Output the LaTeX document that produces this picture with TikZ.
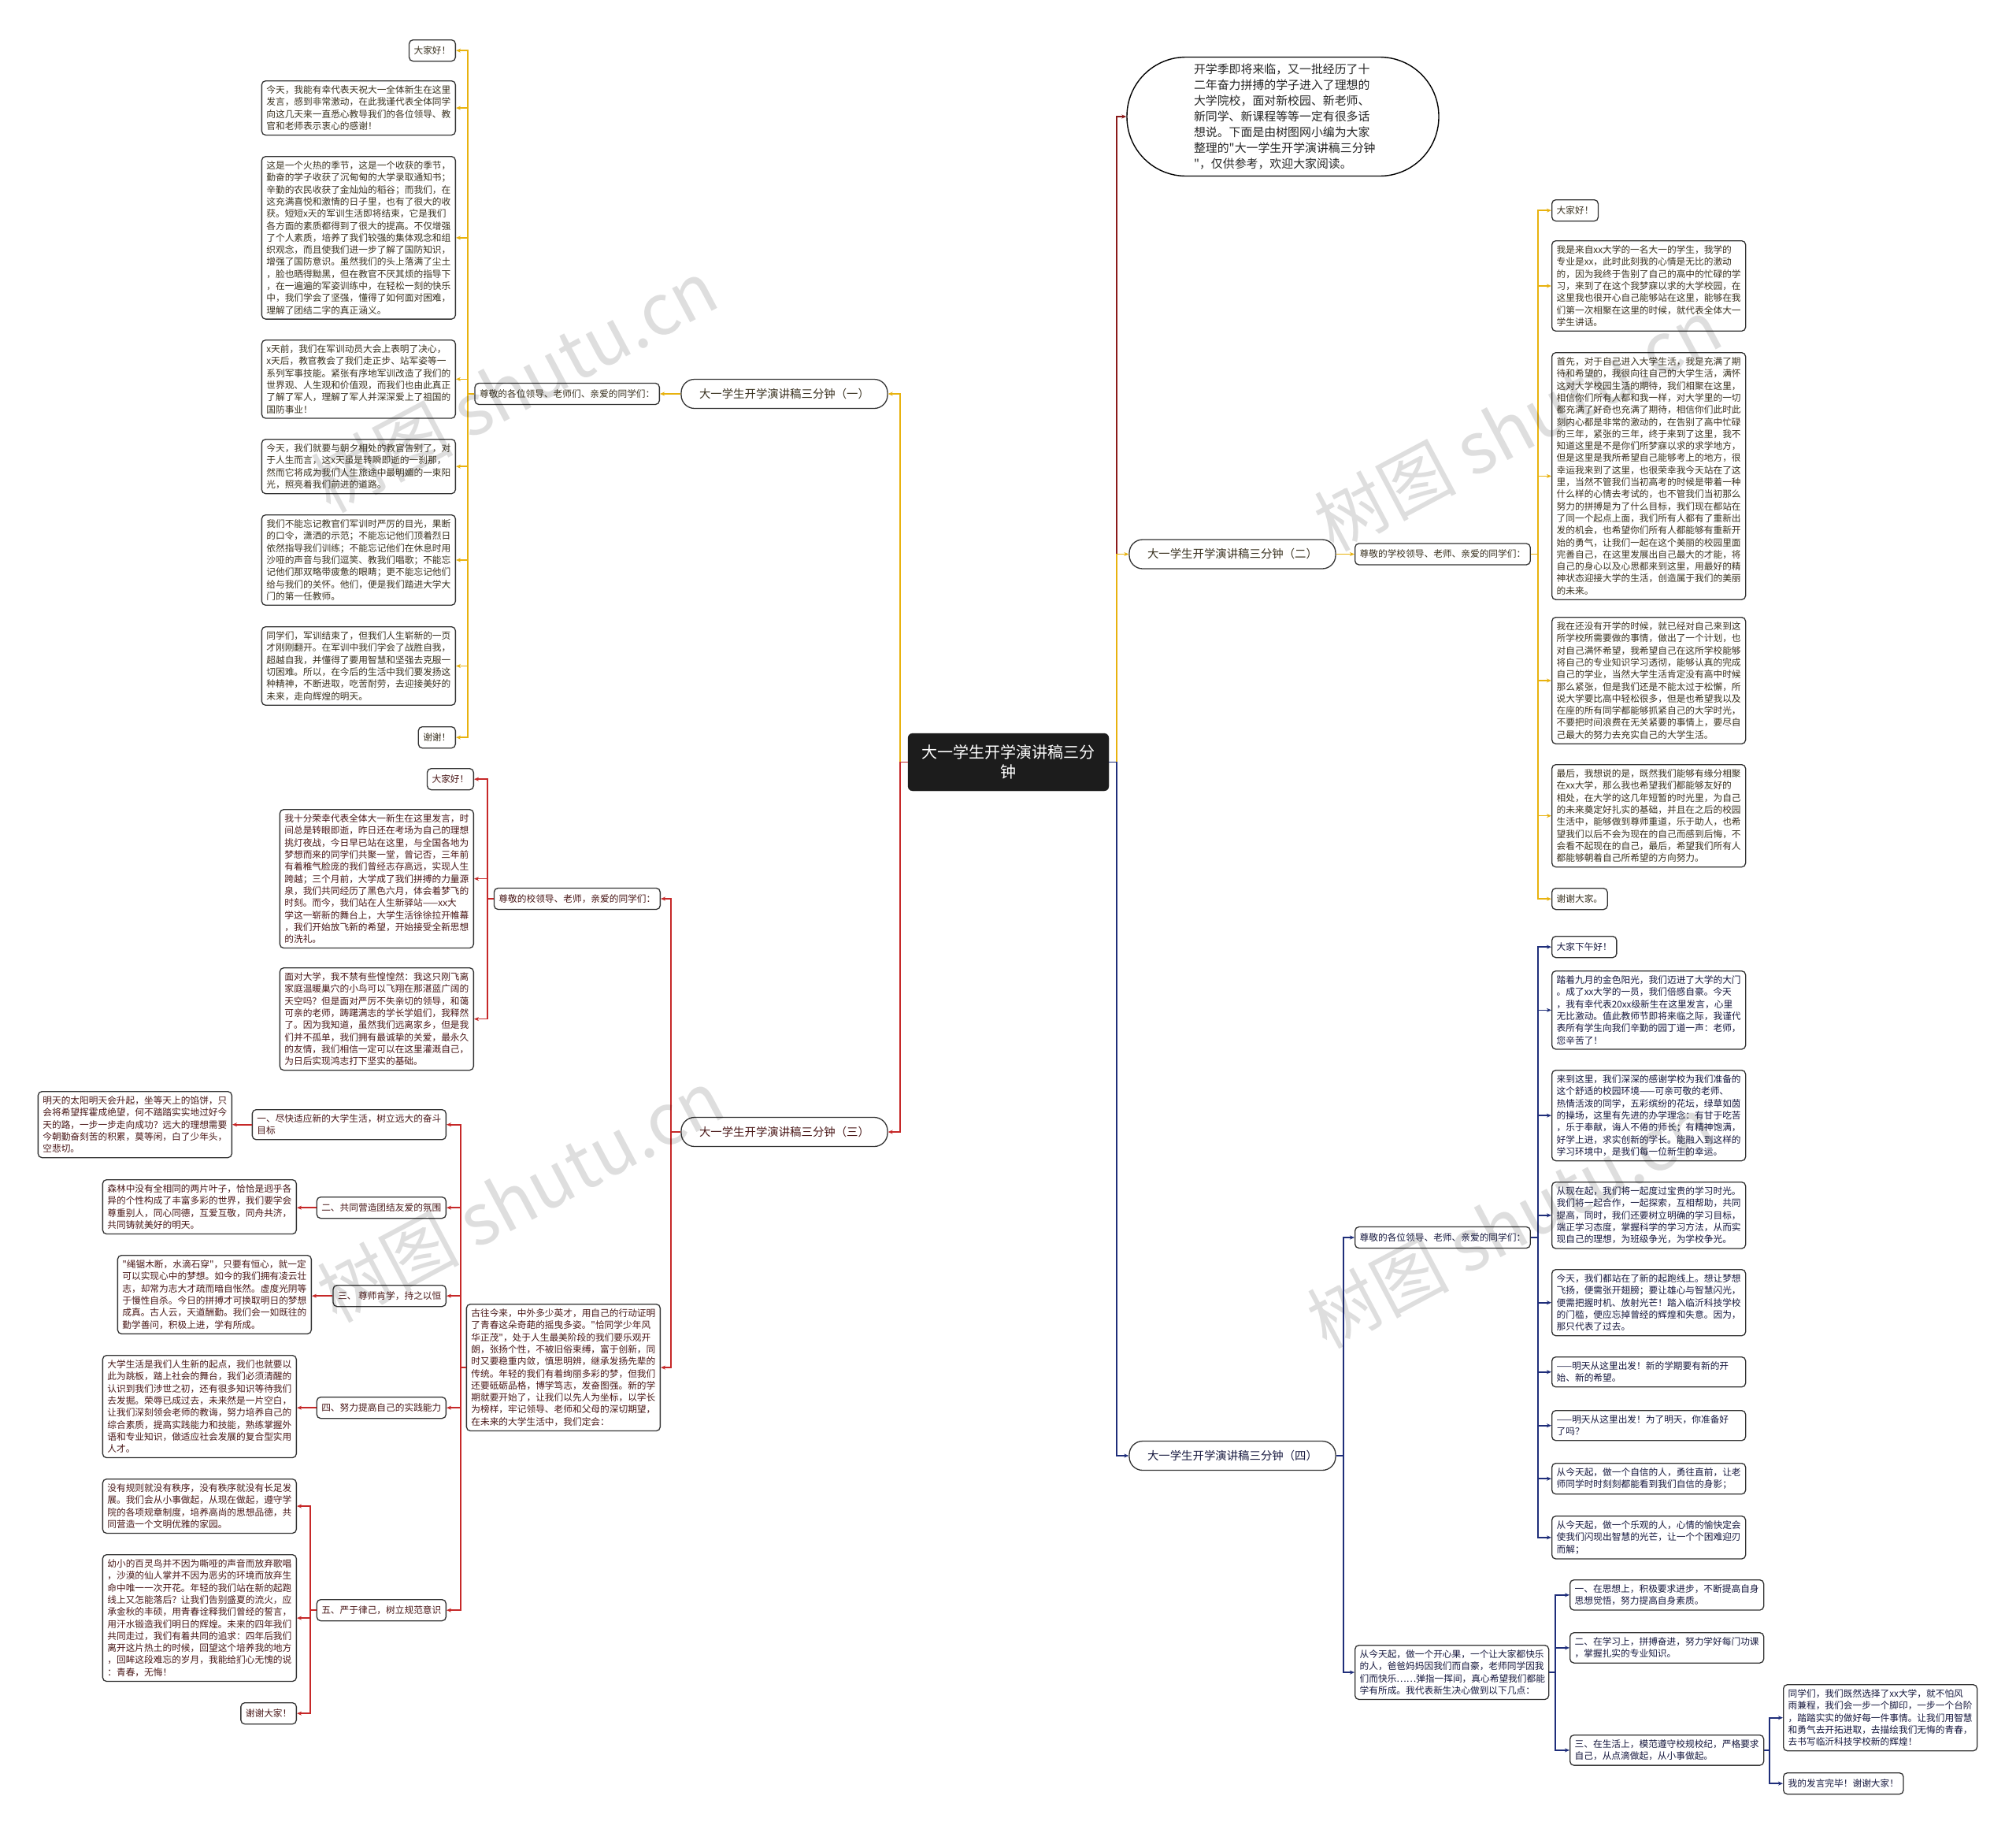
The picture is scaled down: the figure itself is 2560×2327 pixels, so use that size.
\documentclass[tikz,border=0pt]{standalone}
\usepackage{fontspec}
\setmainfont{Noto Sans CJK SC}[Ligatures=TeXOff]
\usetikzlibrary{arrows.meta,calc}
\definecolor{gold}{HTML}{E8B20E}
\definecolor{redl}{HTML}{C62828}
\definecolor{navy}{HTML}{1F2E7A}
\definecolor{introl}{HTML}{8B1A1A}
\definecolor{boxc}{HTML}{333333}
\definecolor{ctrc}{HTML}{1C1C1C}
\definecolor{tone}{HTML}{3A3220}
\definecolor{tthree}{HTML}{4A1818}
\definecolor{tfour}{HTML}{17193F}
\tikzset{
  tx/.style={font=\fontsize{11.7pt}{15.3pt}\selectfont},
  bx/.style={draw=boxc, line width=1.3pt, rounded corners=5pt, fill=white, inner xsep=6pt, inner ysep=6pt, minimum height=27pt, align=left, tx},
  wbx/.style={bx, text width=234pt},
  bo/.style={bx, text=tone},
  bow/.style={wbx, text=tone},
  bt/.style={bx, text=tthree},
  btw/.style={wbx, text=tthree},
  bf/.style={bx, text=tfour},
  bfw/.style={wbx, text=tfour},
  lab/.style={draw=boxc, line width=1.3pt, rounded corners=17pt, fill=white, font=\fontsize{14.4pt}{17pt}\selectfont, minimum width=262pt, minimum height=37pt, inner xsep=4pt},
  ctrbox/.style={fill=ctrc, draw=ctrc, rounded corners=6pt, text=white, font=\fontsize{20pt}{25pt}\selectfont, minimum width=255pt, minimum height=73pt, align=center},
  introbox/.style={draw=black, line width=1.4pt, rounded corners=75pt, fill=white, minimum width=396pt, minimum height=151pt, text width=226pt, align=left, text=black!85, font=\fontsize{14.9pt}{20pt}\selectfont},
  tip/.style={-{Stealth[length=6pt,width=5pt]}},
  gl/.style={draw=gold, line width=1.6pt, tip},
  rl/.style={draw=redl, line width=1.6pt, tip},
  nl/.style={draw=navy, line width=1.6pt, tip},
  dl/.style={draw=introl, line width=1.6pt, tip},
  wm/.style={font=\fontsize{90pt}{90pt}\selectfont, text=black, opacity=0.13, rotate=28}
}
\begin{document}
\begin{tikzpicture}[x=1pt,y=-1pt]
\useasboundingbox (0,0) rectangle (2560,2327);
\fill[white] (0,0) rectangle (2560,2327);

% trunk coordinates
\coordinate (tl) at (1143,0);
\coordinate (tr) at (1418,0);
\coordinate (ta) at (594,0);
\coordinate (tb) at (1953,0);
\coordinate (tc) at (852,0);
\coordinate (tcs) at (619,0);
\coordinate (tcg) at (585,0);
\coordinate (tcv) at (394,0);
\coordinate (td) at (1706,0);
\coordinate (tds) at (1953,0);
\coordinate (tdk) at (1975,0);
\coordinate (tdk3) at (2247,0);

% centre and intro
\node[ctrbox] (ctr) at (1280.5,967.5) {大一学生开学演讲稿三分\\钟};
\node[introbox] (intro) at (1629,148) {开学季即将来临，又一批经历了十\\二年奋力拼搏的学子进入了理想的\\大学院校，面对新校园、新老师、\\新同学、新课程等等一定有很多话\\想说。下面是由树图网小编为大家\\整理的"大一学生开学演讲稿三分钟\\"，仅供参考，欢迎大家阅读。};

% branch labels
\node[lab, text=tone] (L1) at (996,500) {大一学生开学演讲稿三分钟（一）};
\node[lab, text=tone] (L2) at (1565,703.5) {大一学生开学演讲稿三分钟（二）};
\node[lab, text=tthree] (L3) at (996,1437) {大一学生开学演讲稿三分钟（三）};
\node[lab, text=tfour] (L4) at (1565,1848) {大一学生开学演讲稿三分钟（四）};

% ===== branch 1 =====
\node[bo, anchor=east] (s1) at (838,500) {尊敬的各位领导、老师们、亲爱的同学们：};
\node[bo, anchor=north east] (a1) at (579,50) {大家好！};
\node[bow, anchor=north east] (a2) at (579,102) {今天，我能有幸代表天祝大一全体新生在这里\\发言，感到非常激动，在此我谨代表全体同学\\向这几天来一直悉心教导我们的各位领导、教\\官和老师表示衷心的感谢！};
\node[bow, anchor=north east] (a3) at (579,198) {这是一个火热的季节，这是一个收获的季节，\\勤奋的学子收获了沉甸甸的大学录取通知书；\\辛勤的农民收获了金灿灿的稻谷；而我们，在\\这充满喜悦和激情的日子里，也有了很大的收\\获。短短x天的军训生活即将结束，它是我们\\各方面的素质都得到了很大的提高。不仅增强\\了个人素质，培养了我们较强的集体观念和组\\织观念，而且使我们进一步了解了国防知识，\\增强了国防意识。虽然我们的头上落满了尘土\\，脸也晒得黝黑，但在教官不厌其烦的指导下\\，在一遍遍的军姿训练中，在轻松一刻的快乐\\中，我们学会了坚强，懂得了如何面对困难，\\理解了团结二字的真正涵义。};
\node[bow, anchor=north east] (a4) at (579,431) {x天前，我们在军训动员大会上表明了决心，\\x天后，教官教会了我们走正步、站军姿等一\\系列军事技能。紧张有序地军训改造了我们的\\世界观、人生观和价值观，而我们也由此真正\\了解了军人，理解了军人并深深爱上了祖国的\\国防事业！};
\node[bow, anchor=north east] (a5) at (579,557) {今天，我们就要与朝夕相处的教官告别了，对\\于人生而言，这x天虽是转瞬即逝的一刹那，\\然而它将成为我们人生旅途中最明媚的一束阳\\光，照亮着我们前进的道路。};
\node[bow, anchor=north east] (a6) at (579,653) {我们不能忘记教官们军训时严厉的目光，果断\\的口令，潇洒的示范；不能忘记他们顶着烈日\\依然指导我们训练；不能忘记他们在休息时用\\沙哑的声音与我们逗笑、教我们唱歌；不能忘\\记他们那双略带疲惫的眼睛；更不能忘记他们\\给与我们的关怀。他们，便是我们踏进大学大\\门的第一任教师。};
\node[bow, anchor=north east] (a7) at (579,795) {同学们，军训结束了，但我们人生崭新的一页\\才刚刚翻开。在军训中我们学会了战胜自我，\\超越自我，并懂得了要用智慧和坚强去克服一\\切困难。所以，在今后的生活中我们要发扬这\\种精神，不断进取，吃苦耐劳，去迎接美好的\\未来，走向辉煌的明天。};
\node[bo, anchor=north east] (a8) at (579,922) {谢谢！};

% ===== branch 2 =====
\node[bo, anchor=west] (s2) at (1720,703.5) {尊敬的学校领导、老师、亲爱的同学们：};
\node[bo, anchor=north west] (b1) at (1970,253) {大家好！};
\node[bow, anchor=north west] (b2) at (1970,305) {我是来自xx大学的一名大一的学生，我学的\\专业是xx，此时此刻我的心情是无比的激动\\的，因为我终于告别了自己的高中的忙碌的学\\习，来到了在这个我梦寐以求的大学校园，在\\这里我也很开心自己能够站在这里，能够在我\\们第一次相聚在这里的时候，就代表全体大一\\学生讲话。};
\node[bow, anchor=north west] (b3) at (1970,447) {首先，对于自己进入大学生活，我是充满了期\\待和希望的，我很向往自己的大学生活，满怀\\这对大学校园生活的期待，我们相聚在这里，\\相信你们所有人都和我一样，对大学里的一切\\都充满了好奇也充满了期待，相信你们此时此\\刻内心都是非常的激动的，在告别了高中忙碌\\的三年，紧张的三年，终于来到了这里，我不\\知道这里是不是你们所梦寐以求的求学地方，\\但是这里是我所希望自己能够考上的地方，很\\幸运我来到了这里，也很荣幸我今天站在了这\\里，当然不管我们当初高考的时候是带着一种\\什么样的心情去考试的，也不管我们当初那么\\努力的拼搏是为了什么目标，我们现在都站在\\了同一个起点上面，我们所有人都有了重新出\\发的机会，也希望你们所有人都能够有重新开\\始的勇气，让我们一起在这个美丽的校园里面\\完善自己，在这里发展出自己最大的才能，将\\自己的身心以及心思都来到这里，用最好的精\\神状态迎接大学的生活，创造属于我们的美丽\\的未来。};
\node[bow, anchor=north west] (b4) at (1970,783) {我在还没有开学的时候，就已经对自己来到这\\所学校所需要做的事情，做出了一个计划，也\\对自己满怀希望，我希望自己在这所学校能够\\将自己的专业知识学习透彻，能够认真的完成\\自己的学业，当然大学生活肯定没有高中时候\\那么紧张，但是我们还是不能太过于松懈，所\\说大学要比高中轻松很多，但是也希望我以及\\在座的所有同学都能够抓紧自己的大学时光，\\不要把时间浪费在无关紧要的事情上，要尽自\\己最大的努力去充实自己的大学生活。};
\node[bow, anchor=north west] (b5) at (1970,970) {最后，我想说的是，既然我们能够有缘分相聚\\在xx大学，那么我也希望我们都能够友好的\\相处，在大学的这几年短暂的时光里，为自己\\的未来奠定好扎实的基础，并且在之后的校园\\生活中，能够做到尊师重道，乐于助人，也希\\望我们以后不会为现在的自己而感到后悔，不\\会看不起现在的自己，最后，希望我们所有人\\都能够朝着自己所希望的方向努力。};
\node[bo, anchor=north west] (b6) at (1970,1127) {谢谢大家。};

% ===== branch 3 =====
\node[bt, anchor=east] (s3) at (839,1141) {尊敬的校领导、老师，亲爱的同学们：};
\node[bt, anchor=north east] (c1) at (602,975) {大家好！};
\node[btw, anchor=north east] (c2) at (602,1027) {我十分荣幸代表全体大一新生在这里发言，时\\间总是转眼即逝，昨日还在考场为自己的理想\\挑灯夜战，今日早已站在这里，与全国各地为\\梦想而来的同学们共聚一堂，曾记否，三年前\\有着稚气脸庞的我们曾经志存高远，实现人生\\跨越；三个月前，大学成了我们拼搏的力量源\\泉，我们共同经历了黑色六月，体会着梦飞的\\时刻。而今，我们站在人生新驿站——xx大\\学这一崭新的舞台上，大学生活徐徐拉开帷幕\\，我们开始放飞新的希望，开始接受全新思想\\的洗礼。};
\node[btw, anchor=north east] (c3) at (602,1228) {面对大学，我不禁有些惶惶然：我这只刚飞离\\家庭温暖巢穴的小鸟可以飞翔在那湛蓝广阔的\\天空吗？但是面对严厉不失亲切的领导，和蔼\\可亲的老师，踌躇满志的学长学姐们，我释然\\了。因为我知道，虽然我们远离家乡，但是我\\们并不孤单，我们拥有最诚挚的关爱，最永久\\的友情，我们相信一定可以在这里灌溉自己，\\为日后实现鸿志打下坚实的基础。};
\node[btw, anchor=north east] (g) at (839,1655) {古往今来，中外多少英才，用自己的行动证明\\了青春这朵奇葩的摇曳多姿。"恰同学少年风\\华正茂"，处于人生最美阶段的我们要乐观开\\朗，张扬个性，不被旧俗束缚，富于创新，同\\时又要稳重内敛，慎思明辨，继承发扬先辈的\\传统。年轻的我们有着绚丽多彩的梦，但我们\\还要砥砺品格，博学笃志，发奋图强。新的学\\期就要开始了，让我们以先人为坐标，以学长\\为榜样，牢记领导、老师和父母的深切期望，\\在未来的大学生活中，我们定会：};
\node[btw, anchor=north east] (g1) at (567,1408) {一、尽快适应新的大学生活，树立远大的奋斗\\目标};
\node[bt, anchor=north east] (g2) at (567,1519) {二、共同营造团结友爱的氛围};
\node[bt, anchor=north east] (g3) at (567,1631) {三、 尊师肯学，持之以恒};
\node[bt, anchor=north east] (g4) at (567,1773) {四、努力提高自己的实践能力};
\node[bt, anchor=north east] (g5) at (567,2030) {五、严于律己，树立规范意识};
\node[btw, anchor=north east] (h1) at (295,1385) {明天的太阳明天会升起，坐等天上的馅饼，只\\会将希望挥霍成绝望，何不踏踏实实地过好今\\天的路，一步一步走向成功？远大的理想需要\\今朝勤奋刻苦的积累，莫等闲，白了少年头，\\空悲切。};
\node[btw, anchor=north east] (h2) at (377,1497) {森林中没有全相同的两片叶子，恰恰是迥乎各\\异的个性构成了丰富多彩的世界，我们要学会\\尊重别人，同心同德，互爱互敬，同舟共济，\\共同铸就美好的明天。};
\node[btw, anchor=north east] (h3) at (396,1593) {"绳锯木断，水滴石穿"，只要有恒心，就一定\\可以实现心中的梦想。如今的我们拥有凌云壮\\志，却常为志大才疏而暗自怅然。虚度光阴等\\于慢性自杀。今日的拼搏才可换取明日的梦想\\成真。古人云，天道酬勤。我们会一如既往的\\勤学善问，积极上进，学有所成。};
\node[btw, anchor=north east] (h4) at (377,1720) {大学生活是我们人生新的起点，我们也就要以\\此为跳板，踏上社会的舞台，我们必须清醒的\\认识到我们涉世之初，还有很多知识等待我们\\去发掘。荣辱已成过去，未来然是一片空白，\\让我们深刻领会老师的教诲，努力培养自己的\\综合素质，提高实践能力和技能，熟练掌握外\\语和专业知识，做适应社会发展的复合型实用\\人才。};
\node[btw, anchor=north east] (h5) at (377,1877) {没有规则就没有秩序，没有秩序就没有长足发\\展。我们会从小事做起，从现在做起，遵守学\\院的各项规章制度，培养高尚的思想品德，共\\同营造一个文明优雅的家园。};
\node[btw, anchor=north east] (h6) at (377,1973) {幼小的百灵鸟并不因为嘶哑的声音而放弃歌唱\\，沙漠的仙人掌并不因为恶劣的环境而放弃生\\命中唯一一次开花。年轻的我们站在新的起跑\\线上又怎能落后？让我们告别盛夏的流火，应\\承金秋的丰硕，用青春诠释我们曾经的誓言，\\用汗水锻造我们明日的辉煌。未来的四年我们\\共同走过，我们有着共同的追求：四年后我们\\离开这片热土的时候，回望这个培养我的地方\\，回眸这段难忘的岁月，我能给扪心无愧的说\\：青春，无悔！};
\node[bt, anchor=north east] (h7) at (377,2161) {谢谢大家！};

% ===== branch 4 =====
\node[bf, anchor=west] (s4) at (1720,1571) {尊敬的各位领导、老师、亲爱的同学们：};
\node[bfw, anchor=north west] (k) at (1720,2088) {从今天起，做一个开心果，一个让大家都快乐\\的人，爸爸妈妈因我们而自豪，老师同学因我\\们而快乐……弹指一挥间，真心希望我们都能\\学有所成。我代表新生决心做到以下几点：};
\node[bf, anchor=north west] (d1) at (1970,1188) {大家下午好！};
\node[bfw, anchor=north west] (d2) at (1970,1232) {踏着九月的金色阳光，我们迈进了大学的大门\\。成了xx大学的一员，我们倍感自豪。今天\\，我有幸代表20xx级新生在这里发言，心里\\无比激动。值此教师节即将来临之际，我谨代\\表所有学生向我们辛勤的园丁道一声：老师，\\您辛苦了！};
\node[bfw, anchor=north west] (d3) at (1970,1358) {来到这里，我们深深的感谢学校为我们准备的\\这个舒适的校园环境——可亲可敬的老师、\\热情活泼的同学，五彩缤纷的花坛，绿草如茵\\的操场，这里有先进的办学理念：有甘于吃苦\\，乐于奉献，诲人不倦的师长；有精神饱满，\\好学上进，求实创新的学长。能融入到这样的\\学习环境中，是我们每一位新生的幸运。};
\node[bfw, anchor=north west] (d4) at (1970,1500) {从现在起，我们将一起度过宝贵的学习时光。\\我们将一起合作，一起探索，互相帮助，共同\\提高，同时，我们还要树立明确的学习目标，\\端正学习态度，掌握科学的学习方法，从而实\\现自己的理想，为班级争光，为学校争光。};
\node[bfw, anchor=north west] (d5) at (1970,1611) {今天，我们都站在了新的起跑线上。想让梦想\\飞扬，便需张开翅膀；要让雄心与智慧闪光，\\便需把握时机、放射光芒！踏入临沂科技学校\\的门槛，便应忘掉曾经的辉煌和失意。因为，\\那只代表了过去。};
\node[bfw, anchor=north west] (d6) at (1970,1722) {——明天从这里出发！新的学期要有新的开\\始、新的希望。};
\node[bfw, anchor=north west] (d7) at (1970,1790) {——明天从这里出发！为了明天，你准备好\\了吗？};
\node[bfw, anchor=north west] (d8) at (1970,1857) {从今天起，做一个自信的人，勇往直前，让老\\师同学时时刻刻都能看到我们自信的身影；};
\node[bfw, anchor=north west] (d9) at (1970,1924) {从今天起，做一个乐观的人，心情的愉快定会\\使我们闪现出智慧的光芒，让一个个困难迎刃\\而解；};
\node[bfw, anchor=north west] (e1) at (1993,2005) {一、在思想上，积极要求进步，不断提高自身\\思想觉悟，努力提高自身素质。};
\node[bfw, anchor=north west] (e2) at (1993,2072) {二、在学习上，拼搏奋进，努力学好每门功课\\，掌握扎实的专业知识。};
\node[bfw, anchor=north west] (e3) at (1993,2202) {三、在生活上，模范遵守校规校纪，严格要求\\自己，从点滴做起，从小事做起。};
\node[bfw, anchor=north west] (f1) at (2264,2138) {同学们，我们既然选择了xx大学，就不怕风\\雨兼程，我们会一步一个脚印，一步一个台阶\\，踏踏实实的做好每一件事情。让我们用智慧\\和勇气去开拓进取，去描绘我们无悔的青春，\\去书写临沂科技学校新的辉煌！};
\node[bf, anchor=north west] (f2) at (2264,2250) {我的发言完毕！谢谢大家！};

% ===== connectors =====
\draw[dl] (ctr.east) -- (ctr.east -| tr) |- (intro.west);
\draw[gl] (ctr.east) -- (ctr.east -| tr) |- (L2.west);
\draw[nl] (ctr.east) -- (ctr.east -| tr) |- (L4.west);
\draw[gl] (ctr.west) -- (ctr.west -| tl) |- (L1.east);
\draw[rl] (ctr.west) -- (ctr.west -| tl) |- (L3.east);

\draw[gl] (L1.west) -- (s1.east);
\foreach \n in {a1,a2,a3,a4,a5,a6,a7,a8}
  \draw[gl] (s1.west) -- (s1.west -| ta) |- (\n.east);

\draw[gl] (L2.east) -- (s2.west);
\foreach \n in {b1,b2,b3,b4,b5,b6}
  \draw[gl] (s2.east) -- (s2.east -| tb) |- (\n.west);

\foreach \n in {s3,g}
  \draw[rl] (L3.west) -- (L3.west -| tc) |- (\n.east);
\foreach \n in {c1,c2,c3}
  \draw[rl] (s3.west) -- (s3.west -| tcs) |- (\n.east);
\foreach \n in {g1,g2,g3,g4,g5}
  \draw[rl] (g.west) -- (g.west -| tcg) |- (\n.east);
\draw[rl] (g1.west) -- (g1.west -| h1.east);
\draw[rl] (g2.west) -- (g2.west -| h2.east);
\draw[rl] (g3.west) -- (g3.west -| h3.east);
\draw[rl] (g4.west) -- (g4.west -| h4.east);
\foreach \n in {h5,h6,h7}
  \draw[rl] (g5.west) -- (g5.west -| tcv) |- (\n.east);

\foreach \n in {s4,k}
  \draw[nl] (L4.east) -- (L4.east -| td) |- (\n.west);
\foreach \n in {d1,d2,d3,d4,d5,d6,d7,d8,d9}
  \draw[nl] (s4.east) -- (s4.east -| tds) |- (\n.west);
\foreach \n in {e1,e2,e3}
  \draw[nl] (k.east) -- (k.east -| tdk) |- (\n.west);
\foreach \n in {f1,f2}
  \draw[nl] (e3.east) -- (e3.east -| tdk3) |- (\n.west);

% watermarks
\node[wm] (wm1) at (653,490) {树图 shutu.cn};
\node[wm] (wm2) at (661,1518) {树图 shutu.cn};
\node[wm] (wm3) at (1927,539) {树图 shutu.cn};
\node[wm] (wm4) at (1918,1551) {树图 shutu.cn};
\end{tikzpicture}
\end{document}
